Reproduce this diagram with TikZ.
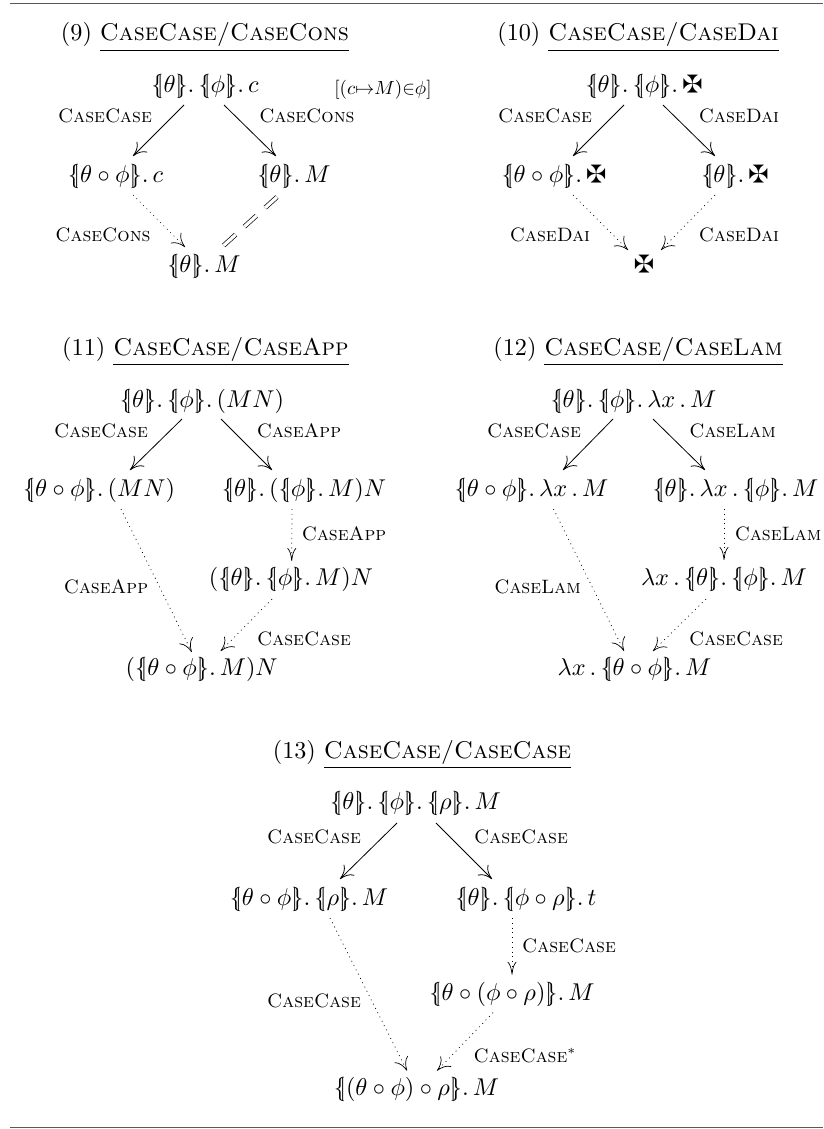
\documentclass[tikz,border=0pt]{standalone}
\usepackage{amssymb}
\usetikzlibrary{arrows.meta}
\newcommand\lbb{\mathopen{\{\mkern-5mu|}}
\newcommand\rbb{\mathclose{|\mkern-5mu\}}}
\newcommand\subs[1]{\lbb #1\rbb.\,}
\newcommand\mal{\maltese}
\tikzset{
  mathnode/.style={anchor=base,inner sep=0pt,scale=2.43},
  titlenode/.style={anchor=base,inner sep=0pt,scale=2.42},
  rulelabel/.style={anchor=base,inner sep=0pt,scale=1.94,font=\scshape},
  sidecond/.style={anchor=base,inner sep=0pt,scale=1.9},
  head/.style={-{Computer Modern Rightarrow[length=13pt,width=15pt]}},
  vhead/.style={-{Computer Modern Rightarrow[length=13pt,width=9pt]}},
  solidarr/.style={head,line width=0.8pt,black},
  dotarr/.style={head,line width=0.7pt,dash pattern=on 0.9pt off 3.9pt},
  vdotarr/.style={vhead,line width=0.7pt,dash pattern=on 0.9pt off 3.9pt},
  eqline/.style={double,double distance=3.2pt,line width=0.7pt,dash pattern=on 16pt off 12pt},
  framerule/.style={line width=1pt,black!65}
}
\begin{document}
\begin{tikzpicture}[x=1pt,y=-1pt]
\useasboundingbox (0,0) rectangle (823,1129);
\coordinate (tl) at (10,4); \coordinate (tr) at (823,4);
\coordinate (bl) at (10,1127); \coordinate (br) at (823,1127);
\draw[framerule] (tl) -- (tr);
\draw[framerule] (bl) -- (br);

% Panel 9
\node[titlenode] (t9) at (205,41) {(9) \underline{\textsc{CaseCase/CaseCons}}};
\node[mathnode] (a9) at (205,93) {$\subs{\theta}\subs{\phi}c$};
\node[mathnode] (b9) at (115.5,182) {$\subs{\theta\circ\phi}c$};
\node[mathnode] (c9) at (294,182) {$\subs{\theta}M$};
\node[mathnode] (d9) at (204,272) {$\subs{\theta}M$};
\node[sidecond] (s9) at (383,95) {$[(c{\mapsto}M){\in}\phi]$};
\draw[solidarr] ([shift={(-21,12)}]a9.base) -- ([shift={(17.5,-26)}]b9.base);
\draw[solidarr] ([shift={(19,12)}]a9.base) -- ([shift={(-18,-26)}]c9.base);
\draw[dotarr] ([shift={(17.5,13)}]b9.base) -- ([shift={(-19,-25)}]d9.base);
\draw[eqline] ([shift={(-17,15)}]c9.base) -- ([shift={(18,-25)}]d9.base);
\node[rulelabel] (l9a) at (105,123) {CaseCase};
\node[rulelabel] (l9b) at (307,123) {CaseCons};
\node[rulelabel] (l9c) at (103,241.7) {CaseCons};

% Panel 10
\node[titlenode] (t10) at (638,41) {(10) \underline{\textsc{CaseCase/CaseDai}}};
\node[mathnode] (a10) at (644,93) {$\subs{\theta}\subs{\phi}\mal$};
\node[mathnode] (b10) at (554,182) {$\subs{\theta\circ\phi}\mal$};
\node[mathnode] (c10) at (735,182) {$\subs{\theta}\mal$};
\node[mathnode] (d10) at (644,272) {$\mal$};
\draw[solidarr] ([shift={(-20,12)}]a10.base) -- ([shift={(19,-26)}]b10.base);
\draw[solidarr] ([shift={(19,12)}]a10.base) -- ([shift={(-20,-26)}]c10.base);
\draw[dotarr] ([shift={(19,13)}]b10.base) -- ([shift={(-16,-22)}]d10.base);
\draw[dotarr] ([shift={(-20,13)}]c10.base) -- ([shift={(17,-22)}]d10.base);
\node[rulelabel] (l10a) at (545,123) {CaseCase};
\node[rulelabel] (l10b) at (739,123) {CaseDai};
\node[rulelabel] (l10c) at (550,241.7) {CaseDai};
\node[rulelabel] (l10d) at (739,241.7) {CaseDai};

% Panel 11
\node[titlenode] (t11) at (205.5,355) {(11) \underline{\textsc{CaseCase/CaseApp}}};
\node[mathnode] (a11) at (202,407) {$\subs{\theta}\subs{\phi}(MN)$};
\node[mathnode] (b11) at (99,496) {$\subs{\theta\circ\phi}(MN)$};
\node[mathnode] (c11) at (304,496) {$\subs{\theta}(\subs{\phi}M)N$};
\node[mathnode] (d11) at (291,585) {$(\subs{\theta}\subs{\phi}M)N$};
\node[mathnode] (e11) at (201.7,675) {$(\subs{\theta\circ\phi}M)N$};
\draw[solidarr] ([shift={(-20,12)}]a11.base) -- ([shift={(31,-26)}]b11.base);
\draw[solidarr] ([shift={(19,12)}]a11.base) -- ([shift={(-32,-26)}]c11.base);
\draw[dotarr] ([shift={(22,13)}]b11.base) -- ([shift={(-10,-23)}]e11.base);
\draw[vdotarr] ([shift={(-12,13)}]c11.base) -- ([shift={(0.7,-24)}]d11.base);
\draw[dotarr] ([shift={(-19,14)}]d11.base) -- ([shift={(19,-24)}]e11.base);
\node[rulelabel] (l11a) at (101,437) {CaseCase};
\node[rulelabel] (l11b) at (299,437) {CaseApp};
\node[rulelabel] (l11c) at (344,540) {CaseApp};
\node[rulelabel] (l11d) at (106,593) {CaseApp};
\node[rulelabel] (l11e) at (304,645) {CaseCase};

% Panel 12
\node[titlenode] (t12) at (638,355) {(12) \underline{\textsc{CaseCase/CaseLam}}};
\node[mathnode] (a12) at (633.5,407) {$\subs{\theta}\subs{\phi}\lambda x\,.\,M$};
\node[mathnode] (b12) at (531.5,496) {$\subs{\theta\circ\phi}\lambda x\,.\,M$};
\node[mathnode] (c12) at (735.5,496) {$\subs{\theta}\lambda x\,.\,\subs{\phi}M$};
\node[mathnode] (d12) at (724,585) {$\lambda x\,.\,\subs{\theta}\subs{\phi}M$};
\node[mathnode] (e12) at (634.5,675) {$\lambda x\,.\,\subs{\theta\circ\phi}M$};
\draw[solidarr] ([shift={(-20.5,12)}]a12.base) -- ([shift={(31.5,-26)}]b12.base);
\draw[solidarr] ([shift={(19.5,12)}]a12.base) -- ([shift={(-30.5,-26)}]c12.base);
\draw[dotarr] ([shift={(22,13)}]b12.base) -- ([shift={(-10.5,-24)}]e12.base);
\draw[vdotarr] ([shift={(-11.5,13)}]c12.base) -- ([shift={(0,-25)}]d12.base);
\draw[dotarr] ([shift={(-18,14)}]d12.base) -- ([shift={(18.5,-24)}]e12.base);
\node[rulelabel] (l12a) at (534,437) {CaseCase};
\node[rulelabel] (l12b) at (732.5,437) {CaseLam};
\node[rulelabel] (l12c) at (778,540) {CaseLam};
\node[rulelabel] (l12d) at (537.5,593) {CaseLam};
\node[rulelabel] (l12e) at (736,645) {CaseCase};

% Panel 13
\node[titlenode] (t13) at (422,758) {(13) \underline{\textsc{CaseCase/CaseCase}}};
\node[mathnode] (a13) at (415.5,809) {$\subs{\theta}\subs{\phi}\subs{\rho}M$};
\node[mathnode] (b13) at (309,905) {$\subs{\theta\circ\phi}\subs{\rho}M$};
\node[mathnode] (c13) at (526,905) {$\subs{\theta}\subs{\phi\circ\rho}t$};
\node[mathnode] (d13) at (512,1000.7) {$\subs{\theta\circ(\phi\circ\rho)}M$};
\node[mathnode] (e13) at (416.5,1095.7) {$\subs{(\theta\circ\phi)\circ\rho}M$};
\draw[solidarr] ([shift={(-18.5,14)}]a13.base) -- ([shift={(31,-26)}]b13.base);
\draw[solidarr] ([shift={(20.5,14)}]a13.base) -- ([shift={(-34,-26)}]c13.base);
\draw[dotarr] ([shift={(21,13)}]b13.base) -- ([shift={(-9.5,-25)}]e13.base);
\draw[vdotarr] ([shift={(-14,13)}]c13.base) -- ([shift={(0,-26)}]d13.base);
\draw[dotarr] ([shift={(-19,12)}]d13.base) -- ([shift={(20.5,-25)}]e13.base);
\node[rulelabel] (l13a) at (314,843) {CaseCase};
\node[rulelabel] (l13b) at (521,843) {CaseCase};
\node[rulelabel] (l13c) at (569,952) {CaseCase};
\node[rulelabel] (l13d) at (314,1007) {CaseCase};
\node[rulelabel] (l13e) at (525,1062) {CaseCase$^{*}$};
\end{tikzpicture}
\end{document}
